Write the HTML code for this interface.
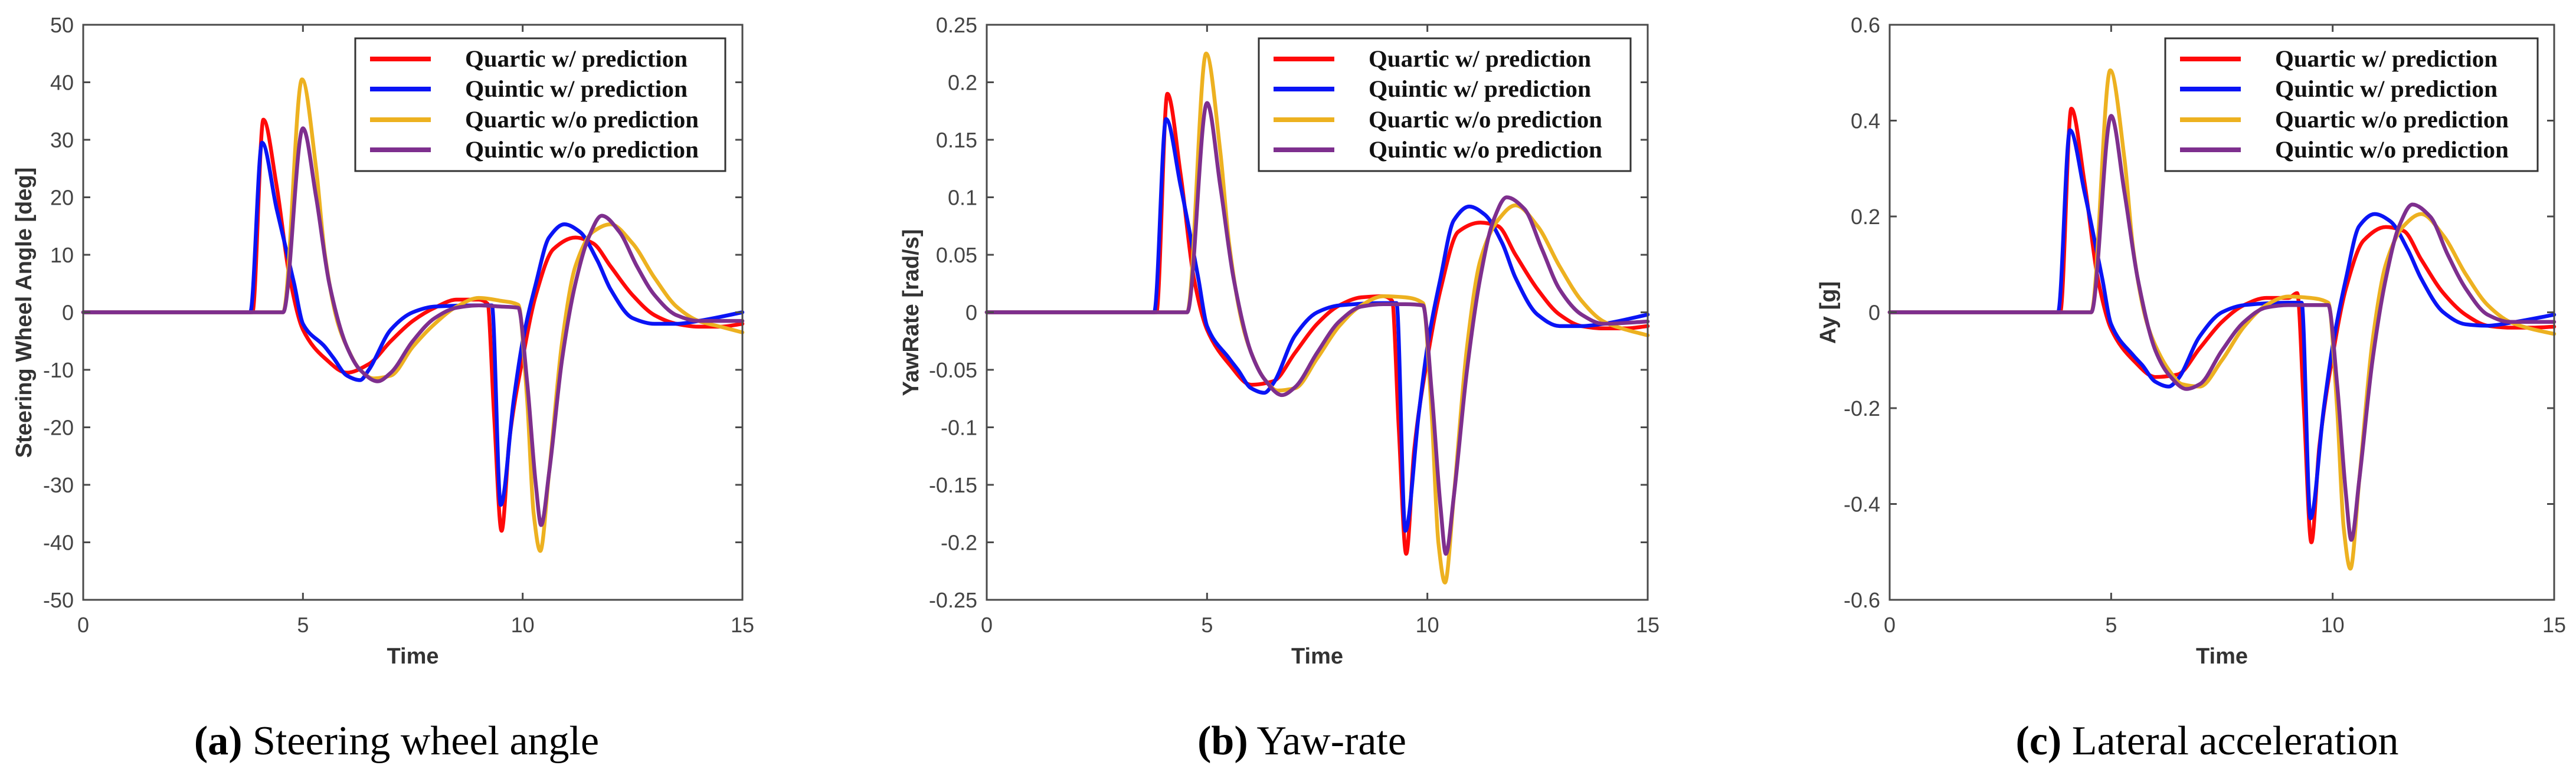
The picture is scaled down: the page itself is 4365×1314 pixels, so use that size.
<!DOCTYPE html>
<html><head><meta charset="utf-8">
<style>
html,body{margin:0;padding:0;background:#fff;}
svg{display:block;}
</style></head>
<body>
<svg id="fig" xmlns="http://www.w3.org/2000/svg" width="4365" height="1314" viewBox="0 0 4365 1314"></svg>
<script>
// ---- data ----
const xTicks = [0, 5, 10, 15];
const seriesNames = ["Quartic w/ prediction", "Quintic w/ prediction", "Quartic w/o prediction", "Quintic w/o prediction"];
const seriesColors = ["#ff0a0a", "#0a14f5", "#edb120", "#7e2f8e"];

const tRed = [0,3.85,4.1,4.4,4.7,5,5.5,6,6.5,7,7.5,8,8.5,9,9.2,9.35,9.52,9.7,10,10.3,10.7,11.2,11.6,12,12.5,13,13.5,14,14.5,15];
const tBlue = [0,3.8,4.07,4.4,4.8,5,5.5,5.7,6,6.3,6.5,7,7.5,8,9,9.3,9.5,9.8,10,10.3,10.6,10.95,11.3,11.7,12,12.5,13,13.5,14,15];
const tYellow = [0,4.55,4.98,5.3,5.5,5.8,6,6.3,6.6,7,7.5,8,8.5,9,9.5,9.9,10.1,10.25,10.4,10.6,10.9,11.2,11.6,12,12.5,13,13.5,14,14.5,15];
const tPurple = [0,4.55,5.0,5.3,5.6,6,6.3,6.7,7,7.5,8,8.5,9,9.5,9.9,10.1,10.3,10.42,10.6,10.9,11.2,11.5,11.8,12.2,12.6,13,13.5,14,15];

// (a) steering wheel angle
const aTicks = [50,40,30,20,10,0,-10,-20,-30,-40,-50];
const aTickLabels = ["50","40","30","20","10","0","-10","-20","-30","-40","-50"];
const aRed = [0,0,33.5,22,6,-3,-8,-10.5,-9,-5,-1.5,0.8,2.2,2.2,1.5,-18,-38,-22,-8,3,11,13,12,8,3,-0.5,-2,-2.5,-2.5,-2];
const aBlue = [0,0,29.5,18,5,-2,-6,-8,-11,-11.8,-10,-3,0,1,1.2,1.2,-33.5,-15,-5,5,13,15.3,14,9,4,-1,-2,-2,-1.5,0];
const aYellow = [0,0,40.5,25,10,-2,-6,-10,-11.5,-11,-6,-2,1,2.5,2,1.3,-15,-35,-41.5,-28,-5,8,14,15.3,12,6,1,-1.5,-2.5,-3.5];
const aPurple = [0,0,32,20,5,-6,-10,-12,-10.5,-5,-1,0.8,1.2,1,0.8,-12,-30,-37,-28,-8,5,13,16.8,14,8,3,-0.5,-1.5,-1.5];

// (b) yaw rate
const bTicks = [0.25,0.2,0.15,0.1,0.05,0,-0.05,-0.1,-0.15,-0.2,-0.25];
const bTickLabels = ["0.25","0.2","0.15","0.1","0.05","0","-0.05","-0.1","-0.15","-0.2","-0.25"];
const bRed = [0,0,0.19,0.12,0.03,-0.015,-0.045,-0.063,-0.06,-0.035,-0.01,0.006,0.013,0.014,0.01,-0.1,-0.21,-0.12,-0.04,0.02,0.07,0.078,0.075,0.05,0.02,-0.002,-0.012,-0.014,-0.014,-0.012];
const bBlue = [0,0,0.168,0.11,0.03,-0.012,-0.04,-0.05,-0.066,-0.07,-0.062,-0.02,0,0.006,0.008,0.008,-0.19,-0.09,-0.03,0.03,0.08,0.092,0.085,0.06,0.03,-0.002,-0.012,-0.012,-0.01,-0.002];
const bYellow = [0,0,0.225,0.14,0.06,-0.01,-0.035,-0.058,-0.068,-0.066,-0.04,-0.012,0.006,0.014,0.013,0.008,-0.09,-0.2,-0.235,-0.16,-0.03,0.045,0.08,0.093,0.075,0.04,0.01,-0.008,-0.015,-0.02];
const bPurple = [0,0,0.182,0.11,0.03,-0.035,-0.058,-0.072,-0.065,-0.035,-0.008,0.005,0.007,0.007,0.006,-0.07,-0.17,-0.21,-0.16,-0.05,0.03,0.08,0.1,0.09,0.055,0.02,-0.002,-0.01,-0.008];

// (c) lateral acceleration
const cTicks = [0.6,0.4,0.2,0,-0.2,-0.4,-0.6];
const cTickLabels = ["0.6","0.4","0.2","0","-0.2","-0.4","-0.6"];
const cRed = [0,0,0.425,0.27,0.07,-0.035,-0.1,-0.135,-0.13,-0.075,-0.02,0.015,0.03,0.03,0.04,-0.2,-0.48,-0.28,-0.09,0.05,0.15,0.178,0.17,0.11,0.04,-0.005,-0.028,-0.032,-0.032,-0.03];
const cBlue = [0,0,0.38,0.25,0.07,-0.025,-0.09,-0.11,-0.145,-0.155,-0.14,-0.05,0,0.015,0.02,0.02,-0.43,-0.2,-0.07,0.07,0.18,0.205,0.19,0.13,0.07,0,-0.025,-0.028,-0.022,-0.005];
const cYellow = [0,0,0.505,0.32,0.13,-0.02,-0.07,-0.12,-0.15,-0.155,-0.1,-0.03,0.015,0.033,0.03,0.02,-0.2,-0.45,-0.535,-0.35,-0.06,0.1,0.18,0.205,0.16,0.08,0.015,-0.02,-0.035,-0.045];
const cPurple = [0,0,0.41,0.25,0.07,-0.08,-0.13,-0.16,-0.15,-0.08,-0.02,0.01,0.015,0.015,0.015,-0.15,-0.38,-0.475,-0.35,-0.1,0.07,0.18,0.225,0.2,0.12,0.05,-0.005,-0.02,-0.02];

const NS = "http://www.w3.org/2000/svg";
const svg = document.getElementById("fig");
function mk(tag, attrs, parent){
  const e = document.createElementNS(NS, tag);
  for (const k in attrs) e.setAttribute(k, attrs[k]);
  (parent||svg).appendChild(e);
  return e;
}
function monotonePath(px, py){
  const n = px.length;
  const d = [], m = new Array(n);
  for (let i=0;i<n-1;i++) d.push((py[i+1]-py[i])/(px[i+1]-px[i]));
  m[0]=d[0]; m[n-1]=d[n-2];
  for (let i=1;i<n-1;i++){
    if (d[i-1]*d[i] <= 0) m[i]=0;
    else { const h0=px[i]-px[i-1], h1=px[i+1]-px[i]; const w1=2*h1+h0, w2=h1+2*h0; m[i]=(w1+w2)/(w1/d[i-1]+w2/d[i]); }
  }
  let s = "M"+px[0].toFixed(1)+","+py[0].toFixed(1);
  for (let i=0;i<n-1;i++){
    const h=(px[i+1]-px[i])/3;
    s += " C"+(px[i]+h).toFixed(1)+","+(py[i]+m[i]*h).toFixed(1)+" "+(px[i+1]-h).toFixed(1)+","+(py[i+1]-m[i+1]*h).toFixed(1)+" "+px[i+1].toFixed(1)+","+py[i+1].toFixed(1);
  }
  return s;
}

const panels = [
  {id:"a", L:141, R:1258, ymax:50, ymin:-50, ticks:aTicks, labels:aTickLabels, series:[aRed,aBlue,aYellow,aPurple],
   ylabel:"Steering Wheel Angle [deg]", ylx:40, leg:{x:602, w:627}, capX:672, capB:"(a)", capT:" Steering wheel angle"},
  {id:"b", L:1672, R:2792, ymax:0.25, ymin:-0.25, ticks:bTicks, labels:bTickLabels, series:[bRed,bBlue,bYellow,bPurple],
   ylabel:"YawRate [rad/s]", ylx:1543, leg:{x:2133, w:630}, capX:2206, capB:"(b)", capT:" Yaw-rate"},
  {id:"c", L:3202, R:4328, ymax:0.6, ymin:-0.6, ticks:cTicks, labels:cTickLabels, series:[cRed,cBlue,cYellow,cPurple],
   ylabel:"Ay [g]", ylx:3097, leg:{x:3669, w:631}, capX:3740, capB:"(c)", capT:" Lateral acceleration"}
];
const times = [tRed, tBlue, tYellow, tPurple];
const T = 42, B = 1017;

panels.forEach(p => {
  const g = mk("g", {});
  
  
  const xs = t => p.L + (t-0)/(15-0)*(p.R-p.L);
  const ys = v => T + (p.ymax - v)/(p.ymax-p.ymin)*(B-T);

  // series
  const sg = mk("g", {fill:"none","stroke-linejoin":"round","stroke-linecap":"round"}, g);
  
  
  p.series.forEach((vals, si) => {
    const tt = times[si];
    const path = mk("path", {d: monotonePath(tt.map(xs), vals.map(ys)), stroke: seriesColors[si], "stroke-width": 6.5}, sg);
    
    
  });

  // axes box
  const box = mk("rect", {x:p.L, y:T, width:p.R-p.L, height:B-T, fill:"none", stroke:"#4a4a4a", "stroke-width":3}, g);
  
  

  // y ticks
  p.ticks.forEach((v, i) => {
    const y = ys(v);
    const t1 = mk("line", {x1:p.L, x2:p.L+12, y1:y, y2:y, stroke:"#4a4a4a", "stroke-width":3}, g);
    
    
    const t2 = mk("line", {x1:p.R-12, x2:p.R, y1:y, y2:y, stroke:"#4a4a4a", "stroke-width":3}, g);
    
    
    const tx = mk("text", {x:p.L-16, y:y+13, "text-anchor":"end", "font-family":"Liberation Sans, sans-serif", "font-size":36, fill:"#444"}, g);
    tx.textContent = p.labels[i];
    
    
  });
  // x ticks
  xTicks.forEach(v => {
    const x = xs(v);
    const t1 = mk("line", {x1:x, x2:x, y1:B, y2:B-12, stroke:"#4a4a4a", "stroke-width":3}, g);
    
    
    const t2 = mk("line", {x1:x, x2:x, y1:T, y2:T+12, stroke:"#4a4a4a", "stroke-width":3}, g);
    
    
    const tx = mk("text", {x:x, y:1072, "text-anchor":"middle", "font-family":"Liberation Sans, sans-serif", "font-size":36, fill:"#444"}, g);
    tx.textContent = String(v);
    
    
  });
  // axis titles
  const xt = mk("text", {x:(p.L+p.R)/2, y:1125, "text-anchor":"middle", "font-family":"Liberation Sans, sans-serif", "font-size":38, "font-weight":"bold", fill:"#333"}, g);
  xt.textContent = "Time";
  
  
  const yt = mk("text", {x:0, y:0, "text-anchor":"middle", "font-family":"Liberation Sans, sans-serif", "font-size":38, "font-weight":"bold", fill:"#333", transform:"translate("+(p.ylx+13)+",530) rotate(-90)"}, g);
  yt.textContent = p.ylabel;
  
  

  // legend
  const lg = mk("g", {}, g);
  
  
  const lr = mk("rect", {x:p.leg.x, y:65, width:p.leg.w, height:225, fill:"#fff", stroke:"#333", "stroke-width":3}, lg);
  
  
  const rows = [100, 151, 203, 254];
  seriesNames.forEach((nm, i) => {
    const ll = mk("line", {x1:p.leg.x+25, x2:p.leg.x+128, y1:rows[i], y2:rows[i], stroke:seriesColors[i], "stroke-width":8}, lg);
    
    
    const lt = mk("text", {x:p.leg.x+186, y:rows[i]+13, "font-family":"Liberation Serif, serif", "font-size":40, "font-weight":"bold", fill:"#111",
      textLength: (nm.indexOf("w/o")>=0 ? 396 : 377), lengthAdjust:"spacingAndGlyphs"}, lg);
    lt.textContent = nm;
    
    
  });

  // caption
  const cap = mk("text", {x:p.capX, y:1279, "text-anchor":"middle", "font-family":"Liberation Serif, serif", "font-size":70, fill:"#000"}, svg);
  
  
  const b1 = mk("tspan", {"font-weight":"bold"}, cap);
  b1.textContent = p.capB;
  const b2 = mk("tspan", {}, cap);
  b2.textContent = p.capT;
});
</script>
</body></html>
